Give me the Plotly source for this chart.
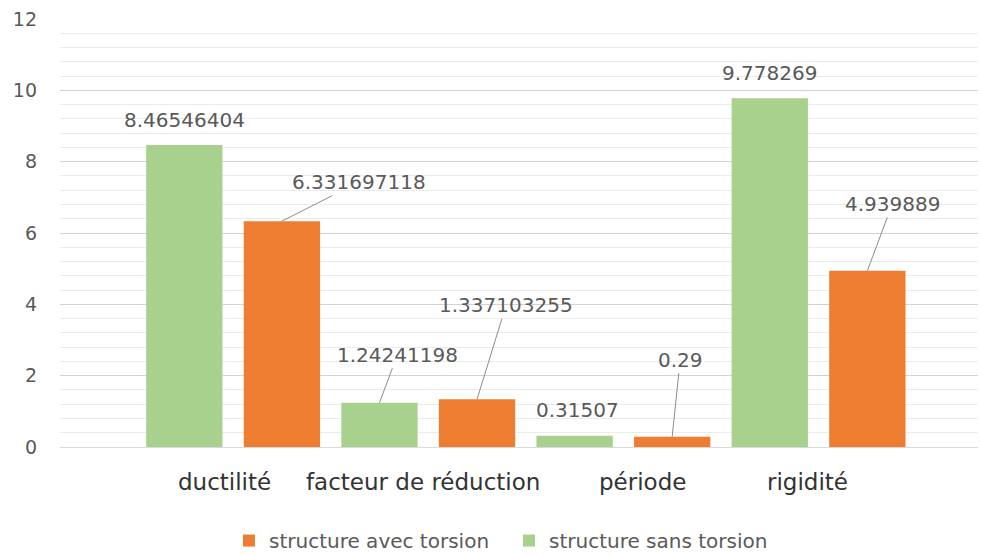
import plotly.graph_objects as go

# Data
categories = ["ductilité", "facteur de réduction", "période", "rigidité"]
sans_torsion = [8.46546404, 1.24241198, 0.31507, 9.778269]
avec_torsion = [6.331697118, 1.337103255, 0.29, 4.939889]
sans_labels = ["8.46546404", "1.24241198", "0.31507", "9.778269"]
avec_labels = ["6.331697118", "1.337103255", "0.29", "4.939889"]
y_ticks = [0, 2, 4, 6, 8, 10, 12]

GREEN = "#A9D18E"
ORANGE = "#ED7D31"
TEXT_GREY = "#595959"
FONT = "DejaVu Sans"

fig = go.Figure()
fig.add_trace(go.Bar(
    x=categories, y=sans_torsion, name="structure sans torsion",
    marker=dict(color=GREEN, line=dict(width=0)),
))
fig.add_trace(go.Bar(
    x=categories, y=avec_torsion, name="structure avec torsion",
    marker=dict(color=ORANGE, line=dict(width=0)),
))

# Label offsets in pixels (text centre relative to bar top); leader line when far
sans_offsets = [(0, -25), (18, -48), (3, -26), (0, -25)]
sans_leader = [False, True, False, False]
avec_offsets = [(77, -39), (29, -94), (8, -77), (25, -67)]
avec_leader = [True, True, True, True]

annotations = []
for series, labels, offsets, leaders, shift in (
    (sans_torsion, sans_labels, sans_offsets, sans_leader, -0.25),
    (avec_torsion, avec_labels, avec_offsets, avec_leader, 0.25),
):
    for i, (val, lab, (ax, ay), lead) in enumerate(zip(series, labels, offsets, leaders)):
        if lead:
            annotations.append(dict(
                x=i + shift, y=val, xref="x", yref="y", text=lab,
                showarrow=True, arrowhead=0, arrowwidth=1, arrowcolor="#8C8C8C",
                standoff=0, startstandoff=0, ax=ax, ay=ay,
                font=dict(family=FONT, size=20, color=TEXT_GREY),
            ))
        else:
            annotations.append(dict(
                x=i + shift, y=val, xref="x", yref="y", text=lab,
                showarrow=False, xanchor="center", yanchor="middle",
                xshift=ax, yshift=-ay,
                font=dict(family=FONT, size=20, color=TEXT_GREY),
            ))

# Category names under the axis, nudged individually
cat_shifts = [-9, -5, 19, -11]
for cat, dx in zip(categories, cat_shifts):
    annotations.append(dict(
        x=cat, y=0, xref="x", yref="y", text=cat, showarrow=False,
        xanchor="center", yanchor="middle", xshift=dx, yshift=-35,
        font=dict(family=FONT, size=23, color="#333333"),
    ))

fig.update_layout(
    width=981, height=555,
    margin=dict(l=60, r=3, t=19, b=108),
    paper_bgcolor="white", plot_bgcolor="white",
    barmode="group", bargap=0.0, bargroupgap=0.218,
    font=dict(family=FONT, color=TEXT_GREY),
    showlegend=True,
    legend=dict(
        orientation="h", traceorder="reversed",
        xref="container", yref="container",
        x=229 / 981, xanchor="left", y=0.026, yanchor="middle",
        font=dict(family=FONT, size=20, color=TEXT_GREY),
        itemwidth=30, entrywidth=235,
    ),
    annotations=annotations,
)
fig.update_xaxes(
    type="category", range=[-0.887, 3.817], automargin=False,
    showgrid=False, showline=True, linecolor="#D9D9D9", linewidth=1,
    ticks="", showticklabels=False,
)
fig.update_yaxes(
    range=[0, 12], tickvals=y_ticks, automargin=False,
    showgrid=True, gridcolor="#D2D2D2", gridwidth=1,
    minor=dict(dtick=0.4, tick0=0, showgrid=True, gridcolor="#EBEBEB", gridwidth=1),
    zeroline=False, showline=False, ticks="", ticklabelstandoff=22,
    tickfont=dict(family=FONT, size=19, color=TEXT_GREY),
)

fig.write_html("out.html")
